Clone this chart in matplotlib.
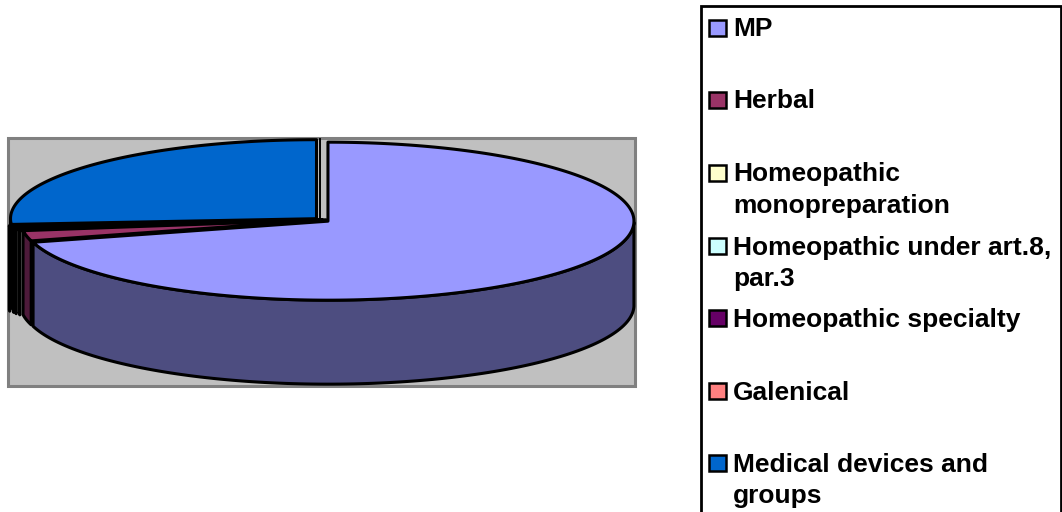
import numpy as np
import matplotlib
matplotlib.use('Agg')
import matplotlib.pyplot as plt
from matplotlib.patches import Rectangle

categories = ['MP', 'Herbal', 'Homeopathic\nmonopreparation', 'Homeopathic under art.8,\npar.3',
              'Homeopathic specialty', 'Galenical', 'Medical devices and\ngroups']
valores = [70.7, 2.1, 0.26, 0.26, 0.26, 0.26, 26.16]
cores = ['#9999FF', '#993366', '#FFFFCC', '#CCFFFF', '#660066', '#FF8080', '#0066CC']
paredes = ['#4D4D80', '#4D1A3A', '#4D1A3A', '#4D1A3A', '#330033', '#330033', '#003366']
explode = [0.0245, -0.0137, -0.003, 0.007, 0.013, 0.0245, 0.0245]

# geometria da pizza, em pixels da figura
CX, CY = 322, 220
RX, RY = 306, 79
ALTURA = 84
LW = 2.2

fig = plt.figure(figsize=(10.62, 5.12), dpi=100)
ax = fig.add_axes([0, 0, 1, 1])
ax.set_xlim(0, 1062)
ax.set_ylim(512, 0)
ax.axis('off')

ax.add_patch(Rectangle((8, 138), 627, 248, facecolor='#C0C0C0', edgecolor='#808080', lw=2.2, zorder=1))


def fatia(inicio, fim, exp, cor, parede, z):
    meio = np.radians((inicio + fim) / 2)
    x0 = CX + exp * RX * np.sin(meio)
    y0 = CY - exp * RY * np.cos(meio)
    t = np.radians(np.linspace(inicio, fim, 200))
    xs = x0 + RX * np.sin(t)
    ys = y0 - RY * np.cos(t)
    # parede externa, so a parte da frente aparece
    frente = np.cos(t) < 0
    if frente.sum() > 1:
        xf, yf = xs[frente], ys[frente]
        ax.fill(np.r_[xf, xf[::-1]], np.r_[yf, yf[::-1] + ALTURA], facecolor=parede,
                edgecolor='black', lw=LW, joinstyle='round', zorder=z)
    ax.fill(np.r_[x0, xs], np.r_[y0, ys], facecolor=cor, edgecolor='black', lw=LW,
            joinstyle='round', zorder=z + 0.5)


# angulos acumulados no sentido horario a partir do topo
fim = np.cumsum(valores) * 3.6
ini = np.r_[0, fim[:-1]]

ordem = [6, 5, 4, 3, 2, 1, 0]
for k, i in enumerate(ordem):
    fatia(ini[i], fim[i], explode[i], cores[i], paredes[i], 2 + k)

# linha fina entre o fim e o inicio da pizza
ax.plot([CX - 2, CX - 2], [CY - RY - 2, CY + 1], color='black', lw=1.4, zorder=2)

# legenda
ax.add_patch(Rectangle((701, 6), 360, 520, facecolor='white', edgecolor='black', lw=2.0, zorder=1))
legenda_y = [28, 100, 173, 246, 318, 391, 463]
for nome, cor, y in zip(categories, cores, legenda_y):
    ax.add_patch(Rectangle((709, y - 8), 17, 16, facecolor=cor, edgecolor='black', lw=1.8, zorder=2))
    for j, linha in enumerate(nome.split('\n')):
        ax.text(733, y + 1.5 + j * 31.5, linha, family='Liberation Sans', fontweight='bold',
                fontsize=19, va='center', ha='left', color='black', zorder=3)

fig.savefig('out.png', dpi=100)
